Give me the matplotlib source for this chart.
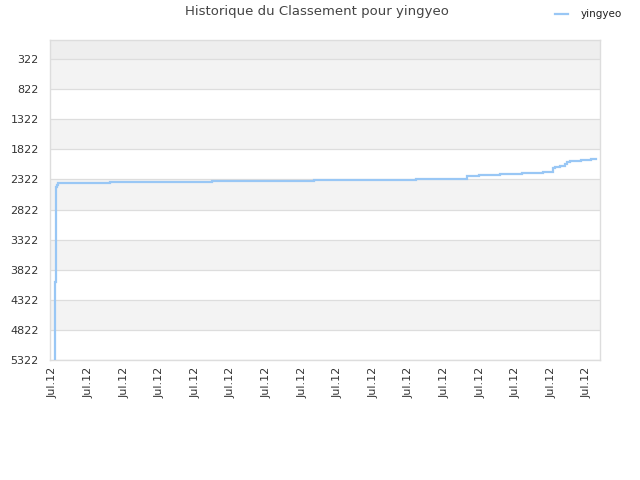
import matplotlib
matplotlib.use("Agg")
import matplotlib.pyplot as plt

# Data (x in tick units, rank values)
x_vals = [0.048, 0.048, 0.084, 0.098, 0.112, 0.14, 0.155, 1.60, 4.47, 7.33, 10.20,
          11.63, 11.97, 12.56, 13.17, 13.76, 14.04, 14.10, 14.24, 14.38, 14.44,
          14.52, 14.69, 14.83, 15.11, 15.25]
ranks = [5400, 4026, 2498, 2448, 2415, 2382, 2377, 2360, 2344, 2327, 2315,
         2260, 2244, 2227, 2211, 2194, 2138, 2111, 2094, 2071, 2038,
         2021, 2011, 1995, 1978, 1978]
y_ticks = [322, 822, 1322, 1822, 2322, 2822, 3322, 3822, 4322, 4822, 5322]
x_ticks = list(range(16))
x_labels = ["Jul.12"] * 16
series_name = "yingyeo"

fig = plt.figure(figsize=(6.4, 4.8), dpi=100)
ax = fig.add_axes([50/640, 1-360/480, 550/640, 320/480])

y_top = 6
y_bot = 5322
# background bands
ax.axhspan(y_top, y_ticks[0], color="#eeeeee", zorder=0, lw=0)
for i in range(len(y_ticks) - 1):
    c = "#f3f3f3" if i % 2 == 0 else "#ffffff"
    ax.axhspan(y_ticks[i], y_ticks[i+1], color=c, zorder=0, lw=0)
for t in y_ticks:
    ax.axhline(t, color="#dddddd", lw=0.9, zorder=1)

ax.step(x_vals, ranks, where="post", color="#99c7f5", lw=1.6, zorder=3,
        label=series_name, solid_joinstyle="miter")

ax.set_ylim(y_bot, y_top)
ax.set_xlim((50-53)/35.6, (600-53)/35.6)
ax.set_yticks(y_ticks)
ax.set_yticklabels([str(t) for t in y_ticks])
ax.set_xticks(x_ticks)
ax.set_xticklabels(x_labels, rotation=90)
ax.tick_params(axis="both", length=0, labelsize=8, colors="#333333", pad=8)
ax.tick_params(axis="x", pad=5)
for s in ax.spines.values():
    s.set_color("#dddddd")
    s.set_linewidth(1)

fig.text(317/640, 1-12/480, "Historique du Classement pour yingyeo",
         ha="center", va="center", fontsize=9.5, color="#444444")
leg = fig.legend(loc="upper right", bbox_to_anchor=(0.986, 1.0), frameon=False,
                 fontsize=7.5, handlelength=1.2, handletextpad=1.2)
for t in leg.get_texts():
    t.set_color("#222222")

fig.savefig("out.png", dpi=100)
